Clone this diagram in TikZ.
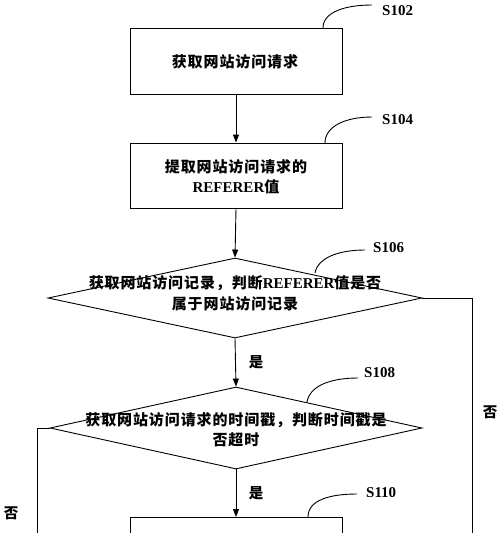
\documentclass[tikz,border=0pt]{standalone}
\usepackage{fontspec}
\setmainfont{Liberation Serif}
\newfontfamily\cjk{Noto Sans CJK SC}[LetterSpace=6]
\usetikzlibrary{shapes.geometric,arrows.meta}
\newcommand\zh[1]{{\cjk #1}}
\tikzset{
  every node/.style={inner sep=0pt},
  stepbox/.style={draw, line width=0.9pt, minimum width=212pt, minimum height=66pt},
  decide/.style={draw, diamond, line width=0.9pt},
  txt/.style={align=center, font=\fontsize{15}{20.5}\selectfont\bfseries},
  lbl/.style={anchor=west, font=\fontsize{15}{15}\selectfont\bfseries},
  yn/.style={font=\fontsize{14.5}{15}\selectfont\bfseries},
  flow/.style={-{Triangle[length=8pt,width=6pt]}, line width=0.9pt},
  lead/.style={line width=0.9pt},
}
\begin{document}
\begin{tikzpicture}[x=1pt,y=-1pt]
\useasboundingbox (0,0) rectangle (500,533);
\clip (0,0) rectangle (500,533);
% boxes
\node[stepbox] (b1) at (236,61) {};
\node[txt] (t1) at (235,62) {\zh{获取网站访问请求}};
\node[stepbox, minimum height=65pt] (b2) at (236,175.5) {};
\node[txt] (t2) at (236,176.5) {\zh{提取网站访问请求的}\\REFERER\zh{值}};
% diamonds
\node[decide, minimum width=374pt, minimum height=80pt] (d1) at (235,298) {};
\node[txt] (t3) at (235,293.5) {\zh{获取网站访问记录，判断}REFERER\zh{值是否}\\\zh{属于网站访问记录}};
\node[decide, minimum width=372pt, minimum height=82pt] (d2) at (236,428) {};
\node[txt] (t4) at (236,429.5) {\zh{获取网站访问请求的时间戳，判断时间戳是}\\\zh{否超时}};
\node[stepbox, anchor=north] (b3) at (236,517) {};
% flow
\draw[flow] (b1.south) -- (b2.north);
\draw[flow] (b2.south) -- (d1.north);
\draw[flow] (d1.south) -- (d2.north);
\draw[flow] (d2.south) -- (b3.north);
% branches
\coordinate (r1) at (472,298);
\coordinate (r2) at (472,545);
\draw[lead] (d1.east) -- (r1) -- (r2);
\coordinate (l1) at (37,428);
\coordinate (l2) at (37,545);
\draw[lead] (d2.west) -- (l1) -- (l2);
% yes/no labels
\node[yn] (y1) at (256,362) {\zh{是}};
\node[yn] (y2) at (256,493) {\zh{是}};
\node[yn] (n1) at (490,412) {\zh{否}};
\node[yn] (n2) at (11,513) {\zh{否}};
% step labels and leaders
\node[lbl] (s102) at (382,11) {S102};
\coordinate (c102a) at (323,28);
\coordinate (c102b) at (372,5);
\draw[lead] (c102a) .. controls (323,12) and (345,5) .. (c102b);
\node[lbl] (s104) at (382,120) {S104};
\coordinate (c104a) at (325,143);
\coordinate (c104b) at (372,117);
\draw[lead] (c104a) .. controls (325,126) and (346,117) .. (c104b);
\node[lbl] (s106) at (373,248) {S106};
\coordinate (c106a) at (315,273);
\coordinate (c106b) at (365,250);
\draw[lead] (c106a) .. controls (318,257) and (340,250) .. (c106b);
\node[lbl] (s108) at (364,373) {S108};
\coordinate (c108a) at (307,402);
\coordinate (c108b) at (358,378);
\draw[lead] (c108a) .. controls (310,385) and (332,378) .. (c108b);
\node[lbl] (s110) at (366,493) {S110};
\coordinate (c110a) at (308,517);
\coordinate (c110b) at (357,494);
\draw[lead] (c110a) .. controls (308,500) and (330,494) .. (c110b);
\end{tikzpicture}
\end{document}
